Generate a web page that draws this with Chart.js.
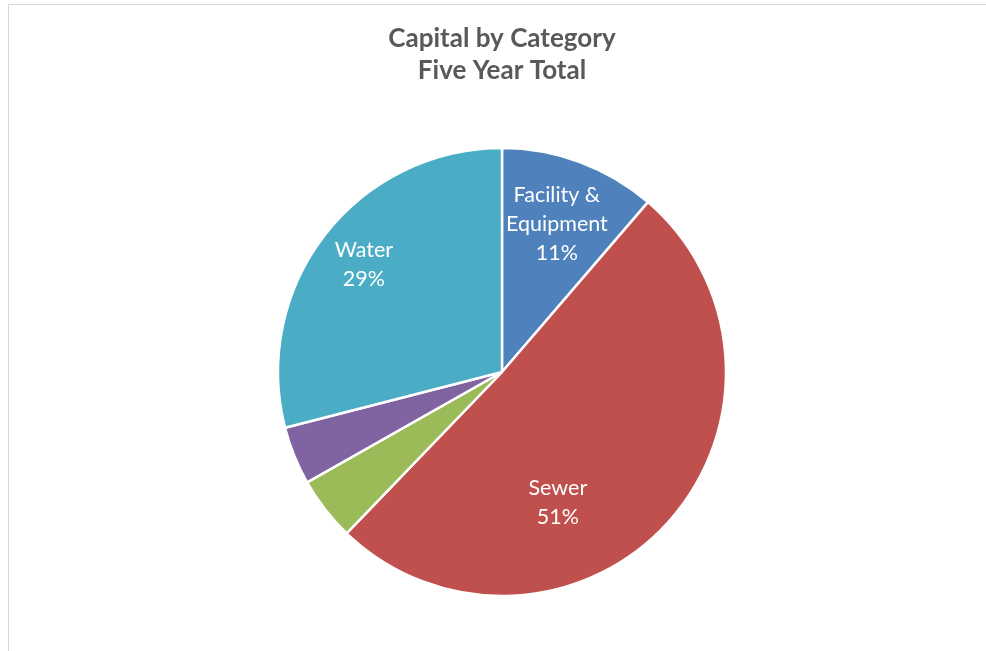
<!DOCTYPE html>
<html>
<head>
<meta charset="utf-8">
<script src="https://cdn.jsdelivr.net/npm/chart.js@4"></script>
<style>
  html, body { margin: 0; padding: 0; background: #ffffff; }
  #wrap { position: relative; width: 986px; height: 651px; overflow: hidden; }
  #frame { position: absolute; left: 8px; top: 4px; width: 1000px; height: 700px; border: 1px solid #d9d9d9; box-sizing: border-box; }
  canvas { position: absolute; left: 0; top: 0; }
</style>
</head>
<body>
<div id="wrap">
  <div id="frame"></div>
  <canvas id="c" width="986" height="651"></canvas>
</div>
<script>
// ---- data ----
const categories = ["Facility & Equipment", "Sewer", "Stormwater", "Other", "Water"];
const labelLines = [["Facility &", "Equipment"], ["Sewer"], null, null, ["Water"]];
const shares = [11.3, 50.9, 4.6, 4.2, 29.0];
const colors = ["#4F81BD", "#C0504D", "#9BBB59", "#8064A2", "#4BACC6"];
const titleLines = ["Capital by Category", "Five Year Total"];

// label placement (fraction along slice angle, fraction of radius)
const placement = [{t: 0.5, r: 0.705}, {t: 0.634, r: 0.634}, null, null, {t: 0.5, r: 0.78}];

const total = shares.reduce((a, b) => a + b, 0);

const labelPlugin = {
  id: 'sliceLabels',
  afterDatasetsDraw(chart) {
    const ctx = chart.ctx;
    const meta = chart.getDatasetMeta(0);
    ctx.save();
    ctx.fillStyle = '#ffffff';
    ctx.font = '21.5px Lato';
    ctx.textAlign = 'center';
    ctx.textBaseline = 'middle';
    const lh = 29;
    meta.data.forEach((arc, i) => {
      const p = placement[i];
      if (!p || !labelLines[i]) return;
      const a = arc.startAngle + (arc.endAngle - arc.startAngle) * p.t;
      const rr = arc.outerRadius * p.r;
      const cx = arc.x + Math.cos(a) * rr;
      const cy = arc.y + Math.sin(a) * rr;
      const pct = Math.round(chart.data.datasets[0].data[i] / total * 100) + '%';
      const lines = labelLines[i].concat([pct]);
      const y0 = cy - (lines.length - 1) * lh / 2;
      lines.forEach((s, k) => ctx.fillText(s, cx, y0 + k * lh));
    });
    ctx.restore();
  }
};

const titlePlugin = {
  id: 'topTitle',
  afterDraw(chart) {
    const ctx = chart.ctx;
    ctx.save();
    ctx.fillStyle = '#595959';
    ctx.font = 'bold 26px Lato';
    ctx.textAlign = 'center';
    ctx.textBaseline = 'middle';
    ctx.fillText(titleLines[0], 502, 39);
    ctx.fillText(titleLines[1], 502, 71);
    ctx.restore();
  }
};

new Chart(document.getElementById('c'), {
  type: 'pie',
  data: {
    labels: categories,
    datasets: [{
      data: shares,
      backgroundColor: colors,
      borderColor: '#ffffff',
      borderWidth: 2.5,
      radius: 224
    }]
  },
  options: {
    responsive: false,
    animation: false,
    events: [],
    layout: { padding: { left: 276, right: 258, top: 145, bottom: 52 } },
    plugins: {
      legend: { display: false },
      title: { display: false },
      tooltip: { enabled: false }
    }
  },
  plugins: [labelPlugin, titlePlugin]
});
</script>
</body>
</html>
